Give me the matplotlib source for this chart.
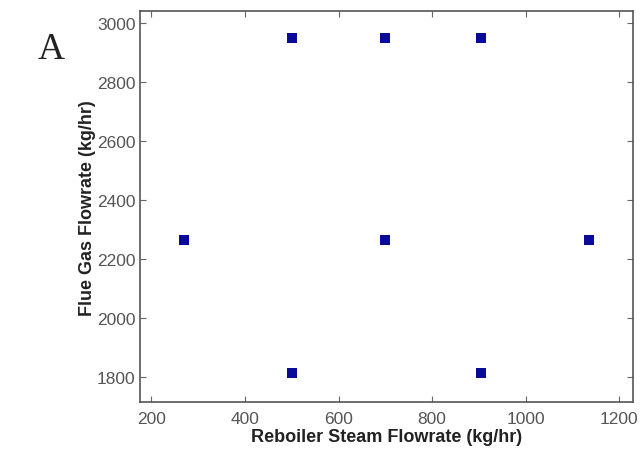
import matplotlib.pyplot as plt

# operating points
steam_flow = [500, 700, 905, 270, 700, 1135, 500, 905]
flue_gas_flow = [2950, 2950, 2950, 2265, 2265, 2265, 1815, 1815]
x_ticks = [200, 400, 600, 800, 1000, 1200]
y_ticks = [1800, 2000, 2200, 2400, 2600, 2800, 3000]

plt.rcParams['font.family'] = ['Liberation Sans', 'DejaVu Sans']

fig = plt.figure(figsize=(6.41, 4.52), dpi=100)
ax = fig.add_axes([0.218, 0.108, 0.77, 0.865])
ax.plot(steam_flow, flue_gas_flow, 's', color='#0a0a9a', markersize=7, markeredgewidth=0)

ax.set_xlim(175, 1230)
ax.set_ylim(1715, 3041)
ax.set_xticks(x_ticks)
ax.set_yticks(y_ticks)
ax.tick_params(direction='in', top=True, right=True, length=4, width=0.8,
               labelsize=12.5, labelcolor='#555555', color='#666666', pad=3)
ax.tick_params(axis='x', pad=6)
for s in ax.spines.values():
    s.set_color('#555555')
    s.set_linewidth(1.2)

ax.set_xlabel('Reboiler Steam Flowrate (kg/hr)', fontsize=13, fontweight='bold', color='#222222', labelpad=2)
ax.set_ylabel('Flue Gas Flowrate (kg/hr)', fontsize=13, fontweight='bold', color='#222222', labelpad=1)
fig.text(0.058, 0.89, 'A', fontsize=27, family='Liberation Serif', color='#222222', ha='left', va='center')

fig.savefig('out.png', dpi=100)
